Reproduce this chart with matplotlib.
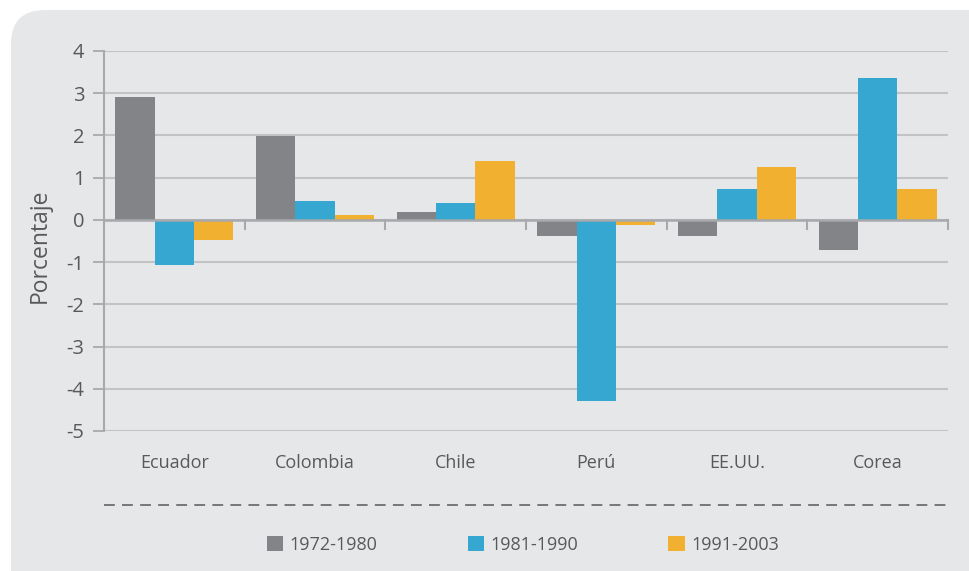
import numpy as np
import matplotlib
matplotlib.use("Agg")
import matplotlib.pyplot as plt
from matplotlib.patches import FancyBboxPatch, Patch
from matplotlib.lines import Line2D

plt.rcParams['font.family'] = ['Open Sans', 'DejaVu Sans']

countries = ["Ecuador", "Colombia", "Chile", "Perú", "EE.UU.", "Corea"]
periods = ["1972-1980", "1981-1990", "1991-2003"]
v_1972_1980 = [2.91, 1.99, 0.19, -0.38, -0.38, -0.71]
v_1981_1990 = [-1.08, 0.45, 0.40, -4.30, 0.73, 3.36]
v_1991_2003 = [-0.47, 0.12, 1.40, -0.12, 1.26, 0.73]
yticks = [4, 3, 2, 1, 0, -1, -2, -3, -4, -5]

colors = ["#838487", "#36a7d0", "#f2b030"]
text_col = "#58595b"
W, H = 970, 571

fig = plt.figure(figsize=(9.7, 5.71), dpi=100)
fig.patch.set_facecolor("white")

# rounded grey panel behind everything
bg = FancyBboxPatch((11 / W, -0.1), 1.2, 1 - 10 / H + 0.1,
                    boxstyle="round,pad=0,rounding_size=0.035",
                    transform=fig.transFigure, facecolor="#e6e7e9",
                    edgecolor="none", zorder=-10,
                    mutation_aspect=W / H)
fig.patches.append(bg)

ax = fig.add_axes([104 / W, 1 - 431 / H, 844 / W, 380 / H])
ax.set_facecolor("none")

x = np.arange(len(countries))
bw = 0.28
series = [v_1972_1980, v_1981_1990, v_1991_2003]
for i, (vals, c) in enumerate(zip(series, colors)):
    ax.bar(x + (i - 1) * bw, vals, width=bw, color=c, zorder=3, linewidth=0)

ax.set_xlim(-0.5, len(countries) - 0.5)
ax.set_ylim(-5, 4)
ax.set_yticks(yticks)
ax.set_yticklabels([str(t) for t in yticks], fontsize=14.5, color=text_col)
ax.tick_params(axis="y", length=8, width=1.3, color="#a7a9ac", pad=6)
ax.grid(axis="y", color="#c2c3c5", linewidth=1.5, zorder=1)

for s in ["top", "right", "bottom"]:
    ax.spines[s].set_visible(False)
ax.spines["left"].set_color("#a7a9ac")
ax.spines["left"].set_linewidth(1.5)

# zero axis line with tick marks between categories
ax.axhline(0, color="#a7a9ac", linewidth=1.8, zorder=4)
for b in np.arange(0.5, len(countries), 1.0):
    ax.plot([b, b], [0, -0.22], color="#a7a9ac", linewidth=1.5, zorder=4,
            clip_on=False)

ax.set_xticks([])
for xi, name in zip(x, countries):
    ax.text(xi, -5.75, name, ha="center", va="center", fontsize=13,
            color=text_col)

fig.text(40 / W, 1 - 246 / H, "Porcentaje", rotation=90, ha="center",
         va="center", fontsize=16.5, color=text_col)

# dashed separator
fig.add_artist(Line2D([104 / W, 948 / W], [1 - 505 / H, 1 - 505 / H],
                      transform=fig.transFigure, color="#6d6e70",
                      linewidth=1.3, linestyle=(0, (6, 4))))

handles = [Patch(facecolor=c, edgecolor="none") for c in colors]
leg = fig.legend(handles, periods, loc="center",
                 bbox_to_anchor=(523 / W, 1 - 545 / H), ncol=3,
                 frameon=False, fontsize=13, handlelength=0.9,
                 handleheight=0.9, handletextpad=0.35, columnspacing=5.0)
for t in leg.get_texts():
    t.set_color(text_col)

fig.savefig("out.png", dpi=100, facecolor=fig.get_facecolor())
